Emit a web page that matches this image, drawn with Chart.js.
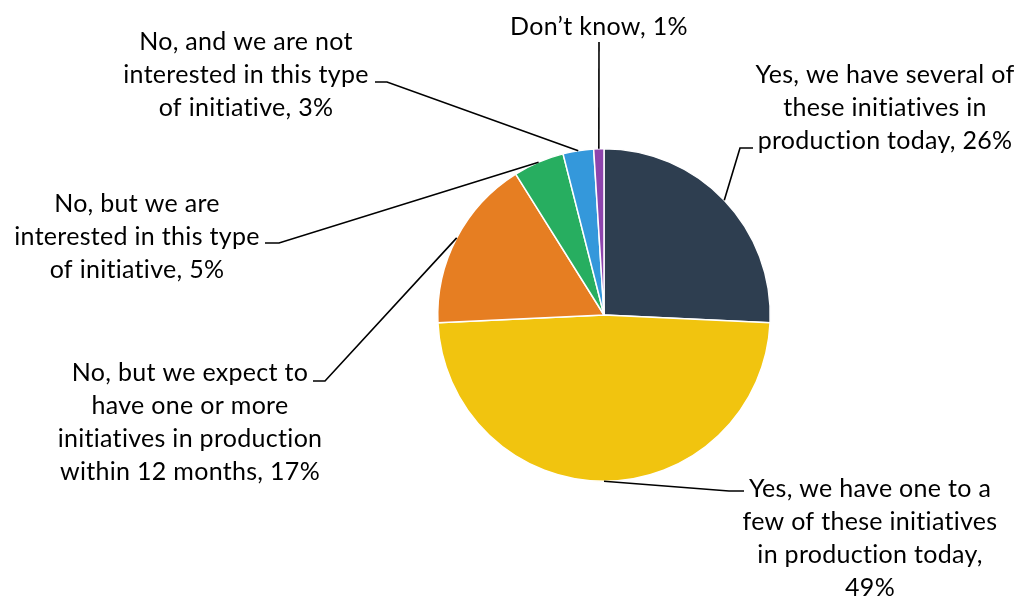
<!DOCTYPE html>
<html>
<head>
<meta charset="utf-8">
<script src="https://cdn.jsdelivr.net/npm/chart.js@4/dist/chart.umd.min.js"></script>
<style>
  html, body { margin: 0; padding: 0; background: #fff; }
  #wrap { width: 1023px; height: 599px; position: relative; }
</style>
</head>
<body>
<div id="wrap"><canvas id="pieChart"></canvas></div>
<script>
const answers = [
  'Yes, we have several of these initiatives in production today',
  'Yes, we have one to a few of these initiatives in production today',
  'No, but we expect to have one or more initiatives in production within 12 months',
  'No, but we are interested in this type of initiative',
  'No, and we are not interested in this type of initiative',
  'Don’t know',
];
const shares = [26, 49, 17, 5, 3, 1];
const sliceColors = ['#2e3e50', '#f1c40f', '#e67e22', '#27ae60', '#3498db', '#8e44ad'];

// label text, already broken into lines
const labelLines = [
  ['Yes, we have several of', 'these initiatives in', 'production today, 26%'],
  ['Yes, we have one to a', 'few of these initiatives', 'in production today,', '49%'],
  ['No, but we expect to', 'have one or more', 'initiatives in production', 'within 12 months, 17%'],
  ['No, but we are', 'interested in this type', 'of initiative, 5%'],
  ['No, and we are not', 'interested in this type', 'of initiative, 3%'],
  ['Don’t know, 1%'],
];

// where each label box sits and where its leader line bends
const labelPlacement = [
  { x: 885, y: 75, ex: 740, ey: 148, hx: 753 },
  { x: 870, y: 489, ex: 729, ey: 491, hx: 744 },
  { x: 190, y: 373, ex: 325, ey: 381, hx: 313 },
  { x: 137, y: 204, ex: 279, ey: 243, hx: 265 },
  { x: 246, y: 42, ex: 387, ey: 82, hx: 375 },
  { x: 599, y: 27, ex: 599, ey: 42, hx: 599 },
];

const leaderLabels = {
  id: 'leaderLabels',
  afterDatasetsDraw(chart) {
    const ctx = chart.ctx;
    const arcs = chart.getDatasetMeta(0).data;
    ctx.save();
    ctx.strokeStyle = '#000';
    ctx.lineWidth = 1.6;
    arcs.forEach((arc, i) => {
      const p = labelPlacement[i];
      const mid = (arc.startAngle + arc.endAngle) / 2;
      const ax = arc.x + Math.cos(mid) * arc.outerRadius;
      const ay = arc.y + Math.sin(mid) * arc.outerRadius;
      ctx.beginPath();
      ctx.moveTo(ax, ay);
      ctx.lineTo(p.ex, p.ey);
      ctx.lineTo(p.hx, p.ey);
      ctx.stroke();
    });
    ctx.fillStyle = '#000';
    ctx.font = '25px Lato, "Open Sans", sans-serif';
    ctx.letterSpacing = '0.3px';
    ctx.textAlign = 'center';
    ctx.textBaseline = 'middle';
    labelLines.forEach((lines, i) => {
      const p = labelPlacement[i];
      lines.forEach((line, j) => {
        ctx.fillText(line, p.x, p.y + j * 33);
      });
    });
    ctx.restore();
  },
};

new Chart(document.getElementById('pieChart').getContext('2d'), {
  type: 'pie',
  data: {
    labels: answers,
    datasets: [
      {
        data: shares,
        backgroundColor: sliceColors,
        borderColor: '#fff',
        borderWidth: 1.5,
        hoverOffset: 0,
      },
    ],
  },
  options: {
    responsive: true,
    maintainAspectRatio: false,
    animation: false,
    layout: {
      padding: { left: 437, right: 252, top: 148, bottom: 117 },
    },
    plugins: {
      legend: { display: false },
      tooltip: { enabled: false },
    },
  },
  plugins: [leaderLabels],
});
</script>
</body>
</html>
